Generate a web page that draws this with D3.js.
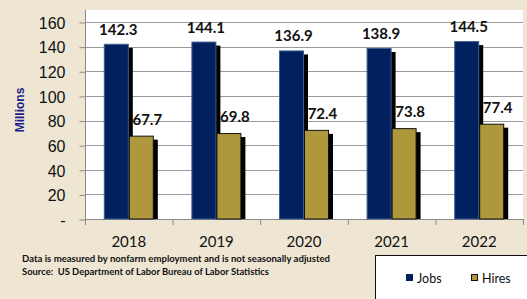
<!DOCTYPE html>
<html><head><meta charset="utf-8">
<script src="https://cdn.jsdelivr.net/npm/d3@7"></script>
<style>body{margin:0;background:#EEE6D3;}svg{display:block;}</style>
</head><body>
<svg id="c" width="527" height="299"></svg>
<script>
const years = ["2018","2019","2020","2021","2022"];
const jobs = [142.3, 144.1, 136.9, 138.9, 144.5];
const hires = [67.7, 69.8, 72.4, 73.8, 77.4];
const yTicks = [0,20,40,60,80,100,120,140,160];
const noteLines = ["Data is measured by nonfarm employment and is not seasonally adjusted",
                   "Source:  US Department of Labor Bureau of Labor Statistics"];
const seriesNames = ["Jobs","Hires"];
const colors = {Jobs:"#002060", Hires:"#AF983C"};

(function(){
const svg = d3.select("#c");
svg.append("rect").attr("width",527).attr("height",299).attr("fill","#EEE6D3");

const pL=85, pR=523, pT=10, pB=219;
const y = d3.scaleLinear().domain([0,160]).range([pB,22]);
const x = d3.scaleBand().domain(years).range([pL,pR]).paddingInner(0).paddingOuter(0);
const barW = 25;

// plot area
svg.append("rect").attr("x",pL).attr("y",pT).attr("width",pR-pL).attr("height",pB-pT).attr("fill","#fff");

// gridlines
svg.append("g").selectAll("line").data(yTicks.filter(d=>d>0)).join("line")
  .attr("x1",pL).attr("x2",pR).attr("y1",d=>Math.round(y(d))+0.5).attr("y2",d=>Math.round(y(d))+0.5)
  .attr("stroke","#9a9a9a").attr("stroke-width",1);

// y axis
const yAxis = d3.axisLeft(y).tickValues(yTicks).tickSize(6).tickFormat(d=>d===0?"-":d);
const ga = svg.append("g").attr("transform",`translate(${pL+0.5},0.5)`).call(yAxis);
ga.select(".domain").attr("d",`M0,${pT-0.5}V${pB}`).attr("stroke","#8a8a8a");
ga.selectAll(".tick line").attr("stroke","#8a8a8a");
ga.selectAll(".tick text").attr("x",-20).attr("dy","0.36em")
  .style("font-family","'Liberation Sans',Arial,sans-serif").style("font-size","16px").attr("fill","#111");

// x axis
const xAxis = d3.axisBottom(x).tickSize(0).tickFormat(d=>d);
const gx = svg.append("g").attr("transform",`translate(0,${pB+0.5})`).call(xAxis);
gx.select(".domain").attr("d",`M${pL},0H${pR}`).attr("stroke","#8a8a8a");
gx.selectAll(".tick text").attr("y",27).attr("dy",0)
  .style("font-family","Lato,'Open Sans',sans-serif").style("font-size","15px").attr("fill","#111");
// x band ticks
const edges = years.map(d=>x(d)).concat([pR]);
svg.append("g").selectAll("line").data(edges).join("line")
  .attr("x1",d=>d+0.5).attr("x2",d=>d+0.5)
  .attr("y1",pB).attr("y2",pB+6).attr("stroke","#8a8a8a");

const pad = (x.bandwidth()-2*barW)/2;

// hires labels (drawn beneath bars)
svg.append("g").selectAll("text").data(hires).join("text")
  .attr("x",(d,i)=>x(years[i])+pad+barW+barW/2+6)
  .attr("y",d=>y(d)-11)
  .attr("text-anchor","middle")
  .style("font-family","Lato,'Open Sans',sans-serif").style("font-weight","bold").style("font-size","15px")
  .attr("fill","#111").text(d=>d.toFixed(1));

// jobs shadows + bars
const gj = svg.append("g");
gj.selectAll("rect.s").data(jobs).join("rect").attr("class","s")
  .attr("x",(d,i)=>x(years[i])+pad+4).attr("y",d=>y(d)+4)
  .attr("width",barW).attr("height",d=>pB-y(d)-4).attr("fill","#000");
gj.selectAll("rect.b").data(jobs).join("rect").attr("class","b")
  .attr("x",(d,i)=>x(years[i])+pad+0.5).attr("y",d=>y(d)+0.5)
  .attr("width",barW-1).attr("height",d=>pB-y(d)-0.5)
  .attr("fill",colors.Jobs).attr("stroke","#3c5f8c").attr("stroke-width",1);

// hires shadows + bars
const gh = svg.append("g");
gh.selectAll("rect.s").data(hires).join("rect").attr("class","s")
  .attr("x",(d,i)=>x(years[i])+pad+barW+4).attr("y",d=>y(d)+4)
  .attr("width",barW).attr("height",d=>pB-y(d)-4).attr("fill","#000");
gh.selectAll("rect.b").data(hires).join("rect").attr("class","b")
  .attr("x",(d,i)=>x(years[i])+pad+barW+0.5).attr("y",d=>y(d)+0.5)
  .attr("width",barW-1).attr("height",d=>pB-y(d)-0.5)
  .attr("fill",colors.Hires).attr("stroke","#111").attr("stroke-width",1);

// jobs labels
svg.append("g").selectAll("text").data(jobs).join("text")
  .attr("x",(d,i)=>x(years[i])+pad+barW/2+2)
  .attr("y",d=>y(d)-9)
  .attr("text-anchor","middle")
  .style("font-family","Lato,'Open Sans',sans-serif").style("font-weight","bold").style("font-size","15px")
  .attr("fill","#111").text(d=>d.toFixed(1));

// y title
svg.append("text").attr("transform","translate(23.5,110) rotate(-90)")
  .attr("text-anchor","middle")
  .style("font-family","'Liberation Sans',Arial,sans-serif").style("font-weight","bold").style("font-size","12px")
  .attr("fill","#1c1c8a").text("Millions");

// notes
svg.append("g").selectAll("text").data(noteLines).join("text")
  .attr("x",22).attr("y",(d,i)=>262+i*13)
  .attr("textLength",(d,i)=>i===0?308:247).attr("lengthAdjust","spacingAndGlyphs")
  .style("white-space","pre")
  .style("font-family","Lato,'Open Sans',sans-serif").style("font-weight","bold").style("font-size","9.5px")
  .attr("fill","#111").text(d=>d);

// legend
const lg = svg.append("g");
lg.append("rect").attr("x",375.5).attr("y",255.5).attr("width",160).attr("height",60)
  .attr("fill","#fff").attr("stroke","#111").attr("stroke-width",1);
const lx = [406,471];
seriesNames.forEach((s,i)=>{
  lg.append("rect").attr("x",lx[i]+0.5).attr("y",274.5).attr("width",6).attr("height",6)
    .attr("fill",colors[s]).attr("stroke",s==="Hires"?"#111":colors[s]).attr("stroke-width",1);
  lg.append("text").attr("x",lx[i]+11).attr("y",283)
    .style("font-family","Lato,'Open Sans',sans-serif").style("font-size","12.5px")
    .attr("fill","#111").text(s);
});
})();
</script>
</body></html>
